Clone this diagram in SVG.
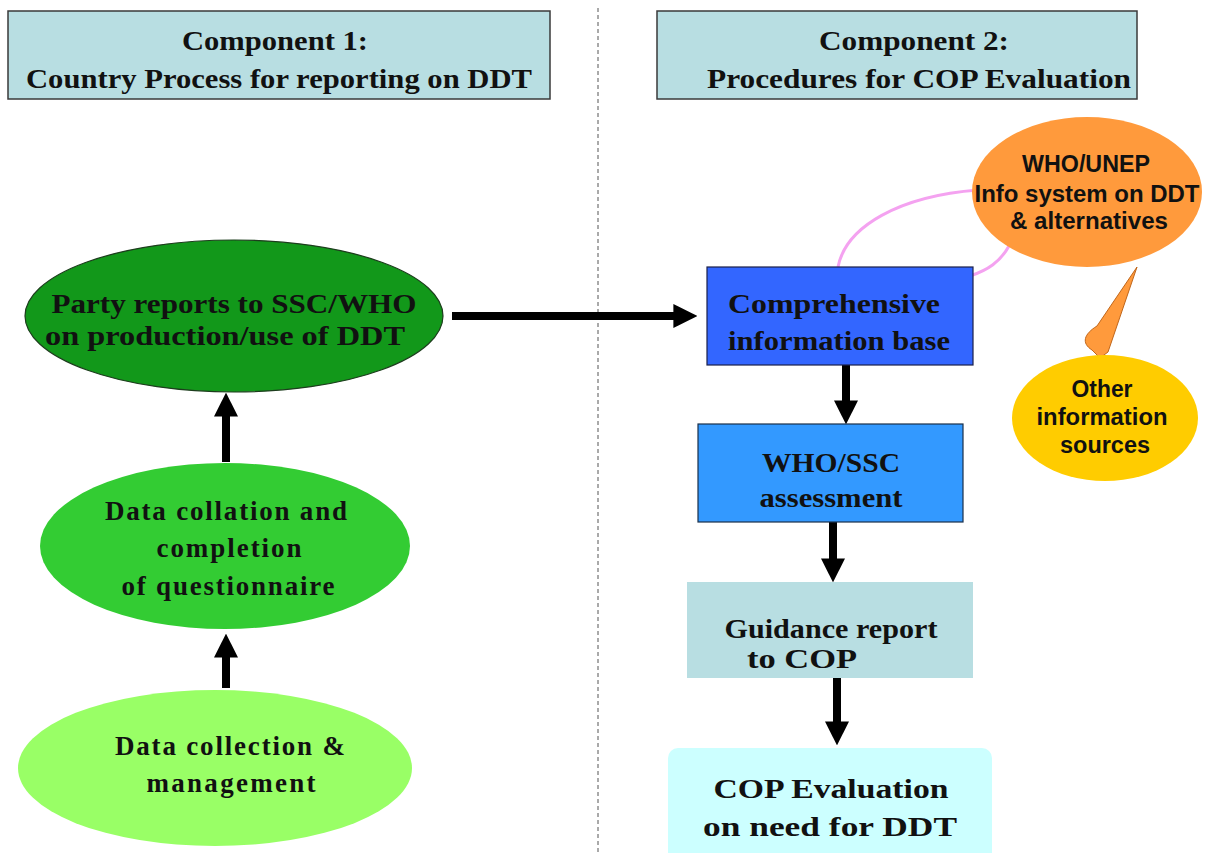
<svg xmlns="http://www.w3.org/2000/svg" width="1208" height="853" viewBox="0 0 1208 853">
<style>
.hdr{fill:#b8dee2;stroke:#3a3a3a;stroke-width:1.5}
.ser{font-family:"Liberation Serif","Times New Roman",serif;font-weight:bold;fill:#111;text-anchor:middle;font-size:27px}
.san{font-family:"Liberation Sans",Arial,sans-serif;font-weight:bold;fill:#111;text-anchor:middle;font-size:23px}
.arr{stroke:#000;stroke-width:8;fill:none;marker-end:url(#ah)}
.pink{stroke:#f4a2f0;stroke-width:3;fill:none}
</style>
<defs>
<marker id="ah" viewBox="0 0 10 10" refX="4" refY="5" markerWidth="3" markerHeight="3" orient="auto" markerUnits="strokeWidth">
<path d="M0,0 L10,5 L0,10 z" fill="#000"/>
</marker>
</defs>
<rect width="1208" height="853" fill="#fff"/>
<line x1="598" y1="8" x2="598" y2="853" stroke="#555" stroke-width="1" stroke-dasharray="4 3"/>

<g id="header1">
<rect class="hdr" x="8" y="11" width="542" height="88"/>
<text class="ser" x="275" y="50" font-size="30" textLength="186" lengthAdjust="spacingAndGlyphs">Component 1:</text>
<text class="ser" x="279" y="88" font-size="34" textLength="506" lengthAdjust="spacingAndGlyphs">Country Process for reporting on DDT</text>
</g>
<g id="header2">
<rect class="hdr" x="657" y="11" width="480" height="88"/>
<text class="ser" x="914" y="50" font-size="30" textLength="190" lengthAdjust="spacingAndGlyphs">Component 2:</text>
<text class="ser" x="919" y="88" font-size="34" textLength="424" lengthAdjust="spacingAndGlyphs">Procedures for COP Evaluation</text>
</g>

<g id="connectors">
<path class="pink" d="M838,267 C846,226 900,196 978,190"/>
<path class="pink" d="M970,276 C988,270 1000,262 1009,246"/>
<line class="arr" x1="226" y1="462" x2="226" y2="407"/>
<line class="arr" x1="226" y1="688" x2="226" y2="648"/>
<line class="arr" x1="452" y1="316" x2="683" y2="316"/>
<line class="arr" x1="846" y1="365" x2="846" y2="410"/>
<line class="arr" x1="833" y1="522" x2="833" y2="568"/>
<line class="arr" x1="837" y1="678" x2="837" y2="731"/>
<path d="M1137,267 L1097,326 C1084,334 1081,343 1092,350 L1100,358 L1108,352 Z" fill="#ff9a3c" stroke="#c0661a" stroke-width="1"/>
</g>

<g id="party-reports">
<ellipse cx="234" cy="316" rx="209" ry="76" fill="#12981a" stroke="#1d3d1d" stroke-width="1.2"/>
<text class="ser" x="234" y="313" font-size="29" textLength="365" lengthAdjust="spacingAndGlyphs">Party reports to SSC/WHO</text>
<text class="ser" x="225" y="345" font-size="29" textLength="360" lengthAdjust="spacingAndGlyphs">on production/use of DDT</text>
</g>
<g id="data-collation">
<ellipse cx="225" cy="546" rx="185" ry="83" fill="#33cc33"/>
<text class="ser" x="226" y="520" font-size="27" textLength="242" lengthAdjust="spacing">Data collation and</text>
<text class="ser" x="229" y="557" font-size="27" textLength="145" lengthAdjust="spacing">completion</text>
<text class="ser" x="228" y="595" font-size="27" textLength="213" lengthAdjust="spacing">of questionnaire</text>
</g>
<g id="data-collection">
<ellipse cx="215" cy="768" rx="197" ry="78" fill="#99ff66"/>
<text class="ser" x="230" y="755" font-size="27" textLength="230" lengthAdjust="spacing">Data collection &amp;</text>
<text class="ser" x="231" y="792" font-size="27" textLength="169" lengthAdjust="spacing">management</text>
</g>

<g id="comprehensive">
<rect x="707" y="267" width="266" height="98" fill="#3366ff" stroke="#1a1f4a" stroke-width="1.2"/>
<text class="ser" x="834" y="313" font-size="29" textLength="212" lengthAdjust="spacingAndGlyphs">Comprehensive</text>
<text class="ser" x="839" y="350" font-size="29" textLength="222" lengthAdjust="spacingAndGlyphs">information base</text>
</g>
<g id="who-ssc">
<rect x="698" y="424" width="265" height="98" fill="#3399ff" stroke="#1a2f4a" stroke-width="1.2"/>
<text class="ser" x="831" y="472" font-size="28" textLength="138" lengthAdjust="spacingAndGlyphs">WHO/SSC</text>
<text class="ser" x="831" y="507" font-size="28" textLength="143" lengthAdjust="spacingAndGlyphs">assessment</text>
</g>
<g id="guidance">
<rect x="687" y="582" width="286" height="96" fill="#b8dee2"/>
<text class="ser" x="831" y="638" font-size="31" textLength="213" lengthAdjust="spacingAndGlyphs">Guidance report</text>
<text class="ser" x="802" y="668" font-size="30" textLength="110" lengthAdjust="spacingAndGlyphs">to COP</text>
</g>
<g id="cop-evaluation">
<rect x="668" y="748" width="324" height="120" rx="10" fill="#ccffff"/>
<text class="ser" x="831" y="798" font-size="35" textLength="235" lengthAdjust="spacingAndGlyphs">COP Evaluation</text>
<text class="ser" x="830" y="836" font-size="35" textLength="254" lengthAdjust="spacingAndGlyphs">on need for DDT</text>
</g>

<g id="who-unep">
<ellipse cx="1087" cy="192" rx="115" ry="75" fill="#ff9a3c"/>
<text class="san" x="1086" y="172" font-size="24" textLength="128" lengthAdjust="spacingAndGlyphs">WHO/UNEP</text>
<text class="san" x="1087" y="202" font-size="24" textLength="225" lengthAdjust="spacingAndGlyphs">Info system on DDT</text>
<text class="san" x="1089" y="229" font-size="24" textLength="158" lengthAdjust="spacingAndGlyphs">&amp; alternatives</text>
</g>
<g id="other-sources">
<ellipse cx="1105" cy="418" rx="93" ry="63" fill="#ffcc00"/>
<text class="san" x="1102" y="397" font-size="24" textLength="61" lengthAdjust="spacingAndGlyphs">Other</text>
<text class="san" x="1102" y="425" font-size="24" textLength="131" lengthAdjust="spacingAndGlyphs">information</text>
<text class="san" x="1105" y="453" font-size="24" textLength="90" lengthAdjust="spacingAndGlyphs">sources</text>
</g>
</svg>
